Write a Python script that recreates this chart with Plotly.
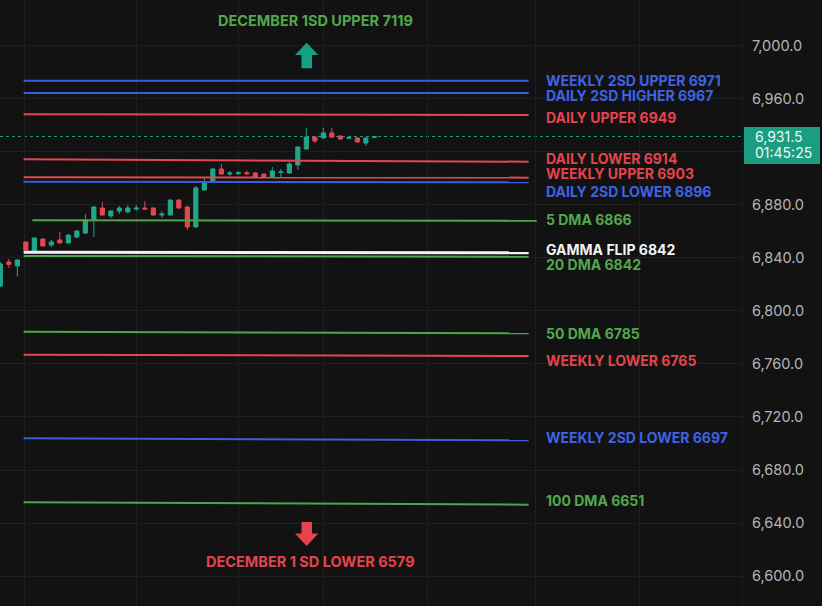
import plotly.graph_objects as go

# ---------------- data ----------------
opens = [6818.8, 6836.9, 6833.9, 6852.0, 6845.2, 6854.2, 6849.7, 6853.5, 6851.2, 6855.7,
         6858.7, 6868.5, 6877.6, 6871.6, 6875.3, 6874.6, 6876.8, 6877.6, 6877.6, 6872.3,
         6872.3, 6883.6, 6878.4, 6863.3, 6891.2, 6898.0, 6907.0, 6903.2, 6903.5, 6904.2,
         6904.0, 6903.2, 6901.0, 6904.4, 6904.0, 6910.1, 6922.1, 6931.1, 6930.4, 6934.2,
         6931.9, 6930.2, 6930.4, 6926.6, 6930.8]
highs = [6836.9, 6839.1, 6839.0, 6852.5, 6855.5, 6854.6, 6853.5, 6859.5, 6857.8, 6861.0,
         6873.1, 6879.0, 6882.1, 6875.8, 6879.1, 6879.8, 6879.8, 6882.9, 6878.0, 6875.3,
         6884.0, 6884.0, 6879.0, 6894.2, 6901.0, 6908.0, 6910.8, 6905.5, 6905.5, 6905.8,
         6904.5, 6903.6, 6908.5, 6907.0, 6912.3, 6924.0, 6937.9, 6931.5, 6937.9, 6937.9,
         6932.3, 6931.1, 6930.8, 6930.8, 6931.9]
lows = [6818.0, 6832.4, 6825.8, 6845.5, 6844.8, 6848.5, 6848.2, 6850.8, 6850.8, 6855.0,
        6858.0, 6855.7, 6871.8, 6870.1, 6873.1, 6874.0, 6875.3, 6876.3, 6871.8, 6870.1,
        6872.0, 6877.0, 6861.0, 6862.5, 6890.8, 6897.5, 6902.8, 6901.9, 6902.5, 6902.5,
        6900.5, 6900.6, 6900.5, 6901.0, 6903.5, 6906.3, 6921.6, 6926.6, 6930.0, 6930.6,
        6929.2, 6929.8, 6927.0, 6924.4, 6930.4]
closes = [6835.4, 6835.0, 6838.4, 6845.9, 6855.0, 6849.0, 6852.0, 6851.2, 6857.2, 6860.2,
          6868.5, 6878.4, 6872.3, 6875.3, 6877.6, 6877.6, 6877.6, 6876.8, 6872.3, 6873.1,
          6883.6, 6877.6, 6863.3, 6892.7, 6896.5, 6907.0, 6903.2, 6904.0, 6904.2, 6903.5,
          6901.0, 6901.0, 6905.5, 6904.8, 6910.8, 6923.6, 6931.1, 6928.1, 6934.2, 6931.1,
          6929.6, 6930.6, 6927.4, 6930.4, 6931.5]
bar_index = list(range(len(opens)))
countdown_text = "01:45:25"

level_labels = ["WEEKLY 2SD UPPER 6971", "DAILY 2SD HIGHER 6967", "DAILY UPPER 6949",
                "DAILY LOWER 6914", "WEEKLY UPPER 6903", "DAILY 2SD LOWER 6896",
                "5 DMA 6866", "20 DMA 6842", "GAMMA FLIP 6842", "50 DMA 6785",
                "WEEKLY LOWER 6765", "WEEKLY 2SD LOWER 6697", "100 DMA 6651"]
level_start = [6973.6, 6964.3, 6948.3, 6914.3, 6900.8, 6897.4, 6868.3, 6841.4, 6844.2,
               6784.3, 6767.0, 6703.9, 6655.7]
level_end = [6973.6, 6964.3, 6947.7, 6912.5, 6900.5, 6897.0, 6868.0, 6840.9, 6843.9,
             6783.1, 6766.0, 6702.4, 6653.9]
level_kind = ["blue", "blue", "red", "red", "red", "blue", "green", "green", "white",
              "green", "red", "blue", "green"]

monthly_upper_text = "DECEMBER 1SD UPPER 7119"
monthly_lower_text = "DECEMBER 1 SD LOWER 6579"

y_ticks = [6600, 6640, 6680, 6720, 6760, 6800, 6840, 6880, 6920, 6960, 7000]
time_grid = [2.82, 16.07, 27.98, 38.0, 50.2, 62.97, 75.2]

# ---------------- style / layout ----------------
W, H = 822, 606
PW = 742  # plot width in px
BG = "#121212"
GRID = "#1f1f1f"
UP = "#22a68b"
DOWN = "#e5474f"
LINE_COL = {"blue": "#3a5ee0", "red": "#e34852", "green": "#4fa64a", "white": "#f2f2f2"}
TEXT_COL = {"blue": "#3f63e3", "red": "#e5434d", "green": "#52a84c", "white": "#f2f2f2"}
FONT = "Inter, Roboto, sans-serif"
AXFONT = "Inter, Roboto, sans-serif"
LABEL_SIZE = 14

x_min = -0.04
x_max = x_min + PW / 8.5
y_lo, y_hi = 6577.45, 7034.46

def px_x(px):
    return px / PW

def px_y(py):
    return 1 - py / H

fig = go.Figure()

# level lines
line_x0 = {"default": 2.74, "5 DMA": 3.76}
line_x1 = {"default": 62.15, "5 DMA": 63.1}
for lab, v0, v1, kind in zip(level_labels, level_start, level_end, level_kind):
    key = "5 DMA" if lab.startswith("5 DMA") else "default"
    fig.add_trace(go.Scatter(
        x=[line_x0[key], line_x1[key]], y=[v0, v1], mode="lines",
        line=dict(color=LINE_COL[kind], width=3 if kind == "white" else 2),
        hoverinfo="skip", showlegend=False))

# candles
fig.add_trace(go.Candlestick(
    x=bar_index, open=opens, high=highs, low=lows, close=closes,
    increasing=dict(line=dict(color=UP, width=1), fillcolor=UP),
    decreasing=dict(line=dict(color=DOWN, width=1), fillcolor=DOWN),
    whiskerwidth=0, showlegend=False))

shapes = []
# last price dotted line
shapes.append(dict(type="line", xref="paper", yref="y", x0=0, x1=1,
                   y0=closes[-1], y1=closes[-1],
                   line=dict(color="#1f9c83", width=1, dash="dot"), layer="below"))
# price tag
shapes.append(dict(type="rect", xref="paper", yref="paper",
                   x0=px_x(744), x1=px_x(820), y0=px_y(164), y1=px_y(127),
                   fillcolor="#1c9c80", line=dict(width=0), layer="above"))
# up arrow
ux = [295, 306.7, 318.3, 312, 312, 301.5, 301.5]
uy = [55, 42.7, 55, 55, 68.3, 68.3, 55]
path = "M " + " L ".join(f"{px_x(a)},{px_y(b)}" for a, b in zip(ux, uy)) + " Z"
shapes.append(dict(type="path", xref="paper", yref="paper", path=path,
                   fillcolor="#14a085", line=dict(width=0)))
# down arrow
dx = [295, 306.7, 318.3, 312, 312, 301.5, 301.5]
dy = [533.5, 546, 533.5, 533.5, 522, 522, 533.5]
path = "M " + " L ".join(f"{px_x(a)},{px_y(b)}" for a, b in zip(dx, dy)) + " Z"
shapes.append(dict(type="path", xref="paper", yref="paper", path=path,
                   fillcolor="#e5434d", line=dict(width=0)))

annotations = []
label_py = [80.2, 95.0, 117.3, 158.3, 173.8, 191, 219.3, 264.5, 249.3, 333.3, 360.7, 437.7, 500]
for lab, kind, py in zip(level_labels, level_kind, label_py):
    annotations.append(dict(text=f"<b>{lab}</b>", xref="paper", yref="paper",
                            x=px_x(545), y=px_y(py), xanchor="left", yanchor="middle",
                            showarrow=False, borderpad=0,
                            font=dict(family=FONT, size=LABEL_SIZE, color=TEXT_COL[kind])))
annotations.append(dict(text=f"<b>{monthly_upper_text}</b>", xref="paper", yref="paper",
                        x=px_x(315), y=px_y(20.7), xanchor="center", yanchor="middle",
                        showarrow=False, borderpad=0,
                        font=dict(family=FONT, size=LABEL_SIZE + 0.5, color="#52a84c")))
annotations.append(dict(text=f"<b>{monthly_lower_text}</b>", xref="paper", yref="paper",
                        x=px_x(310), y=px_y(561.7), xanchor="center", yanchor="middle",
                        showarrow=False, borderpad=0,
                        font=dict(family=FONT, size=LABEL_SIZE + 0.5, color="#e5434d")))
annotations.append(dict(text=f"{closes[-1]:,.1f}", xref="paper", yref="paper",
                        x=px_x(753), y=px_y(136.7), xanchor="left", yanchor="middle",
                        showarrow=False, font=dict(family=AXFONT, size=14, color="#eafaf5")))
annotations.append(dict(text=countdown_text, xref="paper", yref="paper",
                        x=px_x(753), y=px_y(152.7), xanchor="left", yanchor="middle",
                        showarrow=False, font=dict(family=AXFONT, size=14, color="#eafaf5")))

tick_text = ["" if t == 6920 else f"{t:,.1f}" for t in y_ticks]

fig.update_layout(
    width=W, height=H,
    margin=dict(l=0, r=W - PW, t=0, b=0),
    paper_bgcolor=BG, plot_bgcolor=BG,
    showlegend=False,
    shapes=shapes, annotations=annotations,
    xaxis=dict(range=[x_min, x_max], rangeslider=dict(visible=False),
               tickmode="array", tickvals=time_grid, showticklabels=False,
               showgrid=True, gridcolor=GRID, gridwidth=1, zeroline=False,
               showline=False, fixedrange=True),
    yaxis=dict(range=[y_lo, y_hi], side="right", tickmode="array",
               tickvals=y_ticks, ticktext=tick_text,
               showgrid=True, gridcolor=GRID, gridwidth=1, zeroline=False,
               showline=True, linecolor="#1c1c1c", linewidth=1, mirror=False,
               ticks="", ticklabelstandoff=6,
               tickfont=dict(family=AXFONT, size=14.5, color="#b2b5bb")),
)

fig.write_html("out.html", config={"displayModeBar": False},
               post_script="document.body.style.margin='0';"
                           "document.body.style.background='#121212';")
